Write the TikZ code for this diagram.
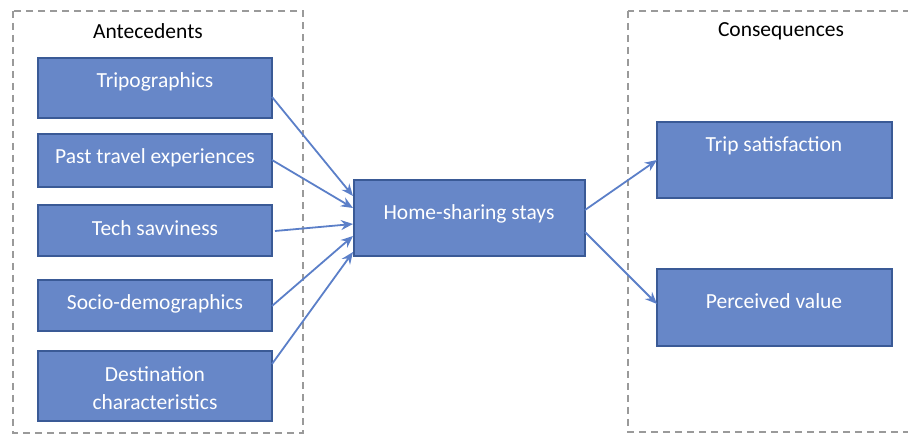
\documentclass[tikz,border=0pt]{standalone}
\usepackage{fontspec}
\setmainfont{Carlito}
\usetikzlibrary{arrows.meta}
\definecolor{boxfill}{HTML}{6787C8}
\definecolor{boxline}{HTML}{3A5A96}
\definecolor{arrowc}{HTML}{5B7FC8}
\definecolor{dashc}{HTML}{9A9A9A}
\tikzset{
  bx/.style={draw=boxline, line width=1.5pt, fill=boxfill},
  lbl/.style={text=white, font=\fontsize{21.5}{28}\selectfont, inner sep=0pt, align=center},
  hdr/.style={text=black, font=\fontsize{21.5}{26}\selectfont, inner sep=0pt},
  grp/.style={draw=dashc, line width=2pt, dash pattern=on 7pt off 5pt},
  arr/.style={draw=arrowc, line width=1.8pt, -{Stealth[length=12pt,width=10pt]}}
}
\begin{document}
\begin{tikzpicture}[x=1pt,y=-1pt]
\useasboundingbox (0,0) rectangle (908,435);
\draw[grp] (13,11) rectangle (303,433);
\draw[grp] (628,11) rectangle (912,432);
\node[hdr] (ha) at (148,31) {Antecedents};
\node[hdr] (hc) at (781,31) {Consequences};
% boxes
\path[bx] (38,58) rectangle (272,118); \coordinate (t) at (272,97);
\node[lbl] (tt) at (155,81.5) {Tripographics};
\path[bx] (38,134) rectangle (272,187); \coordinate (p) at (272,160);
\node[lbl] (pt) at (155,157.5) {Past travel experiences};
\path[bx] (38,205) rectangle (272,256); \coordinate (s) at (275,231);
\node[lbl] (st) at (155,228.5) {Tech savviness};
\path[bx] (38,280) rectangle (272,331); \coordinate (d) at (272,306);
\node[lbl] (dt) at (155,303.5) {Socio-demographics};
\path[bx] (38,351) rectangle (272,421); \coordinate (e) at (272,364);
\node[lbl] (et) at (155,388.5) {Destination\\characteristics};
\path[bx] (354,180) rectangle (585,256);
\node[lbl] (ht) at (469,213.5) {Home-sharing stays};
\path[bx] (657,122) rectangle (892,198);
\node[lbl] (trt) at (774,145.5) {Trip satisfaction};
\path[bx] (657,269) rectangle (892,346);
\node[lbl] (pvt) at (774,301.5) {Perceived value};
\coordinate (h1) at (353,196);
\coordinate (h2) at (353,208);
\coordinate (h3) at (353,224);
\coordinate (h4) at (353,236);
\coordinate (h5) at (353,252);
\coordinate (ho1) at (585,210);
\coordinate (ho2) at (585,232);
\coordinate (ti) at (657,160);
\coordinate (pi) at (657,304);
\draw[arr] (t) -- (h1);
\draw[arr] (p) -- (h2);
\draw[arr] (s) -- (h3);
\draw[arr] (d) -- (h4);
\draw[arr] (e) -- (h5);
\draw[arr] (ho1) -- (ti);
\draw[arr] (ho2) -- (pi);
\end{tikzpicture}
\end{document}
